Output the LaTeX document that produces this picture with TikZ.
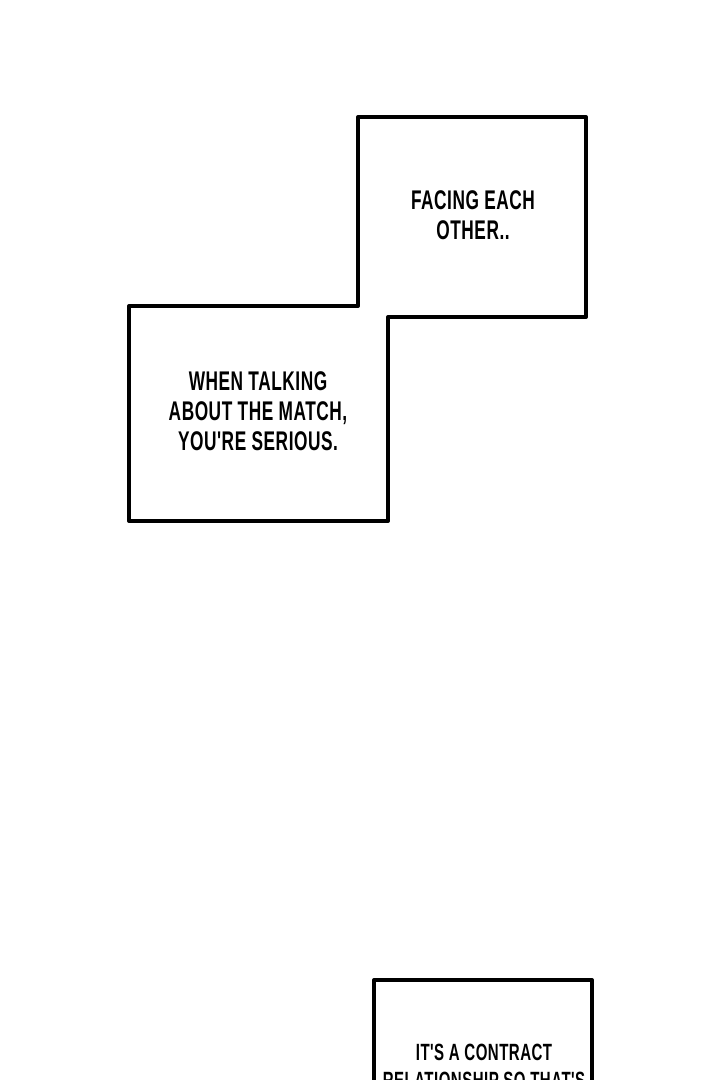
\documentclass[tikz,border=0pt]{standalone}
\usepackage{fontspec}
\newfontfamily\comicfont[FakeStretch=0.64,LetterSpace=2]{Liberation Sans Bold}
\begin{document}
\begin{tikzpicture}[x=1pt,y=-1pt,
  panel/.style={draw=black,line width=4pt,line join=round,fill=white},
  caption/.style={font=\comicfont\fontsize{27}{30}\selectfont,align=center,text=black,inner sep=0pt},
  smallcaption/.style={font=\comicfont\fontsize{23.5}{28}\selectfont,align=center,text=black,inner sep=0pt}]
\useasboundingbox (0,0) rectangle (720,1080);
\clip (0,0) rectangle (720,1080);
\fill[white] (0,0) rectangle (720,1080);
% staircase double panel
\draw[panel] (129,306) -- (358,306) -- (358,117) -- (586,117) -- (586,317)
  -- (388,317) -- (388,521) -- (129,521) -- cycle;
\node[caption] (facing) at (473,215) {FACING EACH\\OTHER..};
\node[caption] (talking) at (258,411) {WHEN TALKING\\ABOUT THE MATCH,\\YOU'RE SERIOUS.};
% bottom panel
\draw[panel] (374,1100) -- (374,980) -- (592,980) -- (592,1100);
\node[smallcaption,anchor=north] (contract) at (484,1044) {IT'S A CONTRACT\\RELATIONSHIP SO THAT'S};
\end{tikzpicture}
\end{document}
